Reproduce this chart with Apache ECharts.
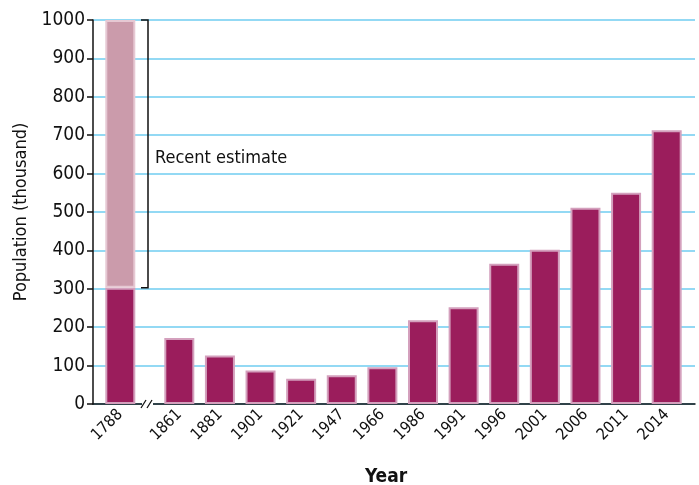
<!DOCTYPE html>
<html>
<head>
<meta charset="utf-8">
<script src="https://cdn.jsdelivr.net/npm/echarts@6/dist/echarts.min.js"></script>
<style>
  html, body { margin: 0; padding: 0; background: #fff; }
  #chart { width: 699px; height: 485px; }
</style>
</head>
<body>
<div id="chart"></div>
<script>
// Early figure (before the axis break) and the range of the recent estimate
const earlyYear = ['1788'];
const earlyCensus = [303];
const recentEstimateHigh = 1000;

// Later census years and population (thousand)
const years = ['1861', '1881', '1901', '1921', '1947', '1966', '1986', '1991', '1996', '2001', '2006', '2011', '2014'];
const population = [172, 126, 87, 66, 75, 96, 218, 252, 365, 402, 511, 550, 713];

const yTicks = [0, 100, 200, 300, 400, 500, 600, 700, 800, 900, 1000];

const FONT = '"Liberation Sans Narrow", "DejaVu Sans Condensed", sans-serif';
const BAR = '#9b1d5c';
const BAR_LIGHT = '#cb9bab';
const BORDER = '#d4a0bd';

const chart = echarts.init(document.getElementById('chart'), null, { renderer: 'canvas' });

const gridTop = 20, gridBottom = 81;
const yMin = yTicks[0], yMax = yTicks[yTicks.length - 1], yStep = yTicks[1] - yTicks[0];

const labelStyle = { color: '#111', fontFamily: FONT, fontSize: 16 };

chart.setOption({
  animation: false,
  grid: [
    { left: 93, right: 4, top: gridTop, bottom: gridBottom, outerBoundsMode: 'none', containLabel: false },
    { left: 100, width: 40.6, top: gridTop, bottom: gridBottom, outerBoundsMode: 'none', containLabel: false },
    { left: 159, width: 528, top: gridTop, bottom: gridBottom, outerBoundsMode: 'none', containLabel: false }
  ],
  xAxis: [
    {
      gridIndex: 0, type: 'category', data: [''],
      axisLine: { lineStyle: { color: '#111', width: 1.5 } },
      axisTick: { show: false }, axisLabel: { show: false },
      name: 'Year', nameLocation: 'middle', nameGap: 64,
      nameTextStyle: { color: '#111', fontFamily: FONT, fontSize: 19, fontWeight: 'bold', padding: [0, 16, 0, 0] }
    },
    {
      gridIndex: 1, type: 'category', data: earlyYear,
      axisLine: { show: false }, axisTick: { show: false },
      axisLabel: Object.assign({ rotate: 45, margin: 8, interval: 0 }, labelStyle)
    },
    {
      gridIndex: 2, type: 'category', data: years,
      axisLine: { show: false }, axisTick: { show: false },
      axisLabel: Object.assign({ rotate: 45, margin: 8, interval: 0 }, labelStyle)
    }
  ],
  yAxis: [
    {
      gridIndex: 0, type: 'value', min: yMin, max: yMax, interval: yStep,
      axisLine: { show: true, lineStyle: { color: '#111', width: 1.5 } },
      axisTick: { show: true, length: 6, lineStyle: { color: '#111', width: 1.5 } },
      axisLabel: Object.assign({ margin: 8, formatter: v => String(v) }, labelStyle, { fontSize: 19 }),
      splitLine: { show: true, lineStyle: { color: '#6fcdf0', width: 1.5 } },
      name: 'Population (thousand)', nameLocation: 'middle', nameGap: 55,
      nameTextStyle: { color: '#111', fontFamily: FONT, fontSize: 18 }
    },
    { gridIndex: 1, type: 'value', min: yMin, max: yMax, show: false },
    { gridIndex: 2, type: 'value', min: yMin, max: yMax, show: false }
  ],
  series: [
    {
      type: 'bar', xAxisIndex: 1, yAxisIndex: 1, stack: 'early',
      data: earlyCensus, barWidth: 30,
      itemStyle: { color: BAR, borderColor: BORDER, borderWidth: 2 }
    },
    {
      type: 'bar', xAxisIndex: 1, yAxisIndex: 1, stack: 'early',
      data: earlyCensus.map(v => recentEstimateHigh - v), barWidth: 30,
      itemStyle: { color: BAR_LIGHT, borderColor: '#e6c8d3', borderWidth: 2 }
    },
    {
      type: 'bar', xAxisIndex: 2, yAxisIndex: 2,
      data: population, barWidth: 30,
      itemStyle: { color: BAR, borderColor: BORDER, borderWidth: 2 }
    }
  ]
});

// Bracket marking the recent-estimate range, and the axis break marks
const yLow = chart.convertToPixel({ yAxisIndex: 1 }, earlyCensus[0]);
const yHigh = chart.convertToPixel({ yAxisIndex: 1 }, recentEstimateHigh);
const y0 = chart.convertToPixel({ yAxisIndex: 1 }, 0);
const bx = 148;
chart.setOption({
  graphic: [
    {
      type: 'polyline', z: 100,
      shape: { points: [[bx - 7, yHigh], [bx, yHigh], [bx, yLow], [bx - 7, yLow]] },
      style: { stroke: '#111', lineWidth: 1.5, fill: null }
    },
    {
      type: 'text', z: 100, left: bx + 7, top: (yHigh + yLow) / 2 - 4,
      style: { text: 'Recent estimate', fill: '#111', font: '18px ' + FONT }
    },
    {
      type: 'rect', z: 100, shape: { x: 142, y: y0 - 2, width: 11, height: 4 },
      style: { fill: '#fff' }
    },
    {
      type: 'line', z: 101, shape: { x1: 141, y1: y0 + 4, x2: 146, y2: y0 - 4 },
      style: { stroke: '#111', lineWidth: 1.3 }
    },
    {
      type: 'line', z: 101, shape: { x1: 147, y1: y0 + 4, x2: 152, y2: y0 - 4 },
      style: { stroke: '#111', lineWidth: 1.3 }
    }
  ]
});
</script>
</body>
</html>
